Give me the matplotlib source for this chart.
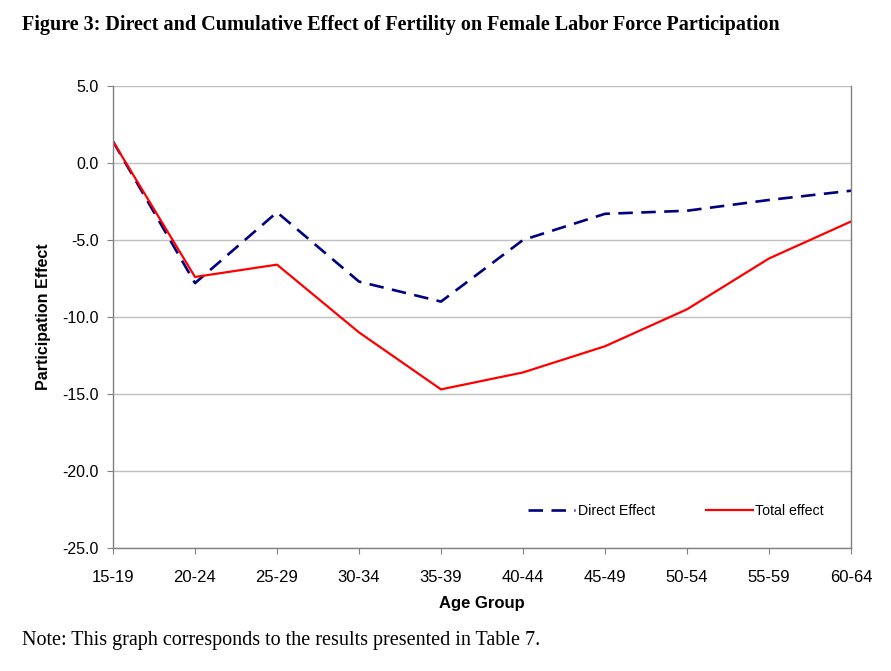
import matplotlib
matplotlib.use("Agg")
import matplotlib.pyplot as plt
import numpy as np

age_groups = ["15-19", "20-24", "25-29", "30-34", "35-39",
              "40-44", "45-49", "50-54", "55-59", "60-64"]
direct_effect = [1.4, -7.8, -3.2, -7.7, -9.0, -5.0, -3.3, -3.1, -2.4, -1.8]
total_effect = [1.4, -7.4, -6.6, -11.0, -14.7, -13.6, -11.9, -9.5, -6.2, -3.8]
y_ticks = [5.0, 0.0, -5.0, -10.0, -15.0, -20.0, -25.0]


def main():
    fig = plt.figure(figsize=(8.91, 6.71), dpi=100)
    ax = fig.add_axes([113 / 891, 123 / 671, 738 / 891, 462 / 671])

    x = np.arange(len(age_groups))
    ax.plot(x, direct_effect, color="#000080", lw=1.9, dashes=(5.5, 3.2),
            label="Direct Effect")
    ax.plot(x, total_effect, color="#ff0000", lw=1.6, label="Total effect")

    ax.set_xlim(0, len(age_groups) - 1)
    ax.set_ylim(-25, 5)
    ax.set_xticks(x)
    ax.set_xticklabels(age_groups, fontfamily="Liberation Sans", fontsize=12)
    ax.set_yticks(y_ticks)
    ax.set_yticklabels([f"{v:.1f}" for v in y_ticks],
                       fontfamily="Liberation Sans", fontsize=11.5)
    ax.tick_params(direction="out", length=4, color="#808080", pad=6)
    ax.tick_params(axis="x", pad=12)

    ax.grid(axis="y", color="#c0c0c0", lw=1)
    ax.set_axisbelow(True)
    ax.spines["top"].set_visible(False)
    for side in ["left", "bottom", "right"]:
        ax.spines[side].set_color("#808080")
        ax.spines[side].set_linewidth(1)

    ax.set_xlabel("Age Group", fontfamily="Liberation Sans", fontsize=12,
                  fontweight="bold", labelpad=8)
    ax.set_ylabel("Participation Effect", fontfamily="Liberation Sans",
                  fontsize=11.5, fontweight="bold", labelpad=8)

    ax.legend(loc="center", bbox_to_anchor=(0.763, 0.08), ncol=2,
              frameon=False, handlelength=3.3, handletextpad=0.2,
              columnspacing=3.6,
              prop={"family": "Liberation Sans", "size": 10.2})

    fig.text(22 / 891, 1 - 25 / 671,
             "Figure 3: Direct and Cumulative Effect of Fertility on Female Labor Force Participation",
             fontfamily="Liberation Serif", fontweight="bold", fontsize=14.5,
             va="center", ha="left")
    fig.text(22 / 891, 1 - 641 / 671,
             "Note: This graph corresponds to the results presented in Table 7.",
             fontfamily="Liberation Serif", fontsize=14.5,
             va="center", ha="left")

    fig.savefig("out.png", dpi=100)


if __name__ == "__main__":
    main()
